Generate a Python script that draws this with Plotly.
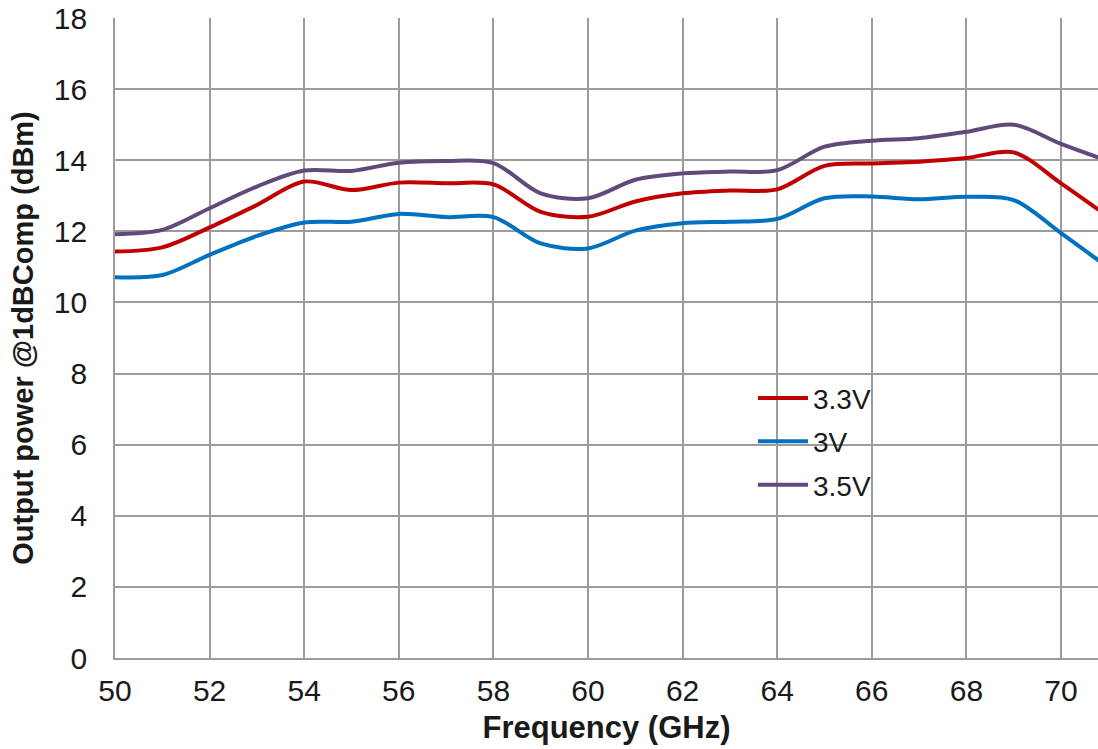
import plotly.graph_objects as go

# Frequency sweep (GHz)
freq_ghz = [50, 51, 52, 53, 54, 55, 56, 57, 58, 59, 60,
            61, 62, 63, 64, 65, 66, 67, 68, 69, 70, 71]

# Output power at 1 dB compression (dBm) per supply voltage
p1db_3v3 = [11.43, 11.55, 12.11, 12.74, 13.40, 13.16, 13.37, 13.35, 13.32, 12.55, 12.41,
            12.84, 13.07, 13.15, 13.18, 13.84, 13.91, 13.96, 14.06, 14.22, 13.35, 12.41]
p1db_3v0 = [10.71, 10.77, 11.34, 11.87, 12.25, 12.27, 12.49, 12.40, 12.40, 11.66, 11.52,
            12.02, 12.23, 12.27, 12.35, 12.93, 12.98, 12.90, 12.97, 12.88, 11.95, 10.98]
p1db_3v5 = [11.92, 12.04, 12.65, 13.26, 13.71, 13.70, 13.93, 13.98, 13.92, 13.07, 12.93,
            13.45, 13.63, 13.68, 13.72, 14.38, 14.55, 14.62, 14.80, 15.00, 14.46, 13.98]

series_names = ["3.3V", "3V", "3.5V"]
series_values = [p1db_3v3, p1db_3v0, p1db_3v5]
series_colors = ["#C00000", "#0070C0", "#604A7B"]

x_ticks = [50, 52, 54, 56, 58, 60, 62, 64, 66, 68, 70]
y_ticks = [0, 2, 4, 6, 8, 10, 12, 14, 16, 18]

grid_col = "#9C9C9C"
font_family = "Liberation Sans, Arial, sans-serif"

fig = go.Figure()
for name, vals, col in zip(series_names, series_values, series_colors):
    fig.add_trace(go.Scatter(
        x=freq_ghz, y=vals, name=name, mode="lines",
        legendgroup=name,
        line=dict(color=col, width=4, shape="spline", smoothing=0.9),
    ))

fig.update_layout(
    width=1098, height=749,
    margin=dict(l=115, r=0, t=18, b=91),
    paper_bgcolor="white", plot_bgcolor="white",
    font=dict(family=font_family, color="#1a1a1a"),
    showlegend=True,
    legend=dict(
        x=0.649, y=0.445, xanchor="left", yanchor="top",
        bgcolor="rgba(0,0,0,0)", borderwidth=0,
        font=dict(size=28, family=font_family, color="#1a1a1a"),
        traceorder="grouped", tracegroupgap=4, itemwidth=50,
    ),
    xaxis=dict(
        range=[50, 50 + 983 / 47.3],
        tickvals=x_ticks, ticktext=[str(v) for v in x_ticks],
        showgrid=True, gridcolor=grid_col, gridwidth=1.6,
        showline=True, linecolor=grid_col, linewidth=1.6,
        zeroline=False, ticks="", ticklabelstandoff=5,
        tickfont=dict(size=30, family=font_family, color="#1a1a1a"),
        title=dict(text="<b>Frequency (GHz)</b>", standoff=11,
                   font=dict(size=31, family=font_family, color="#1a1a1a")),
    ),
    yaxis=dict(
        range=[0, 18],
        tickvals=y_ticks, ticktext=[str(v) for v in y_ticks],
        showgrid=True, gridcolor=grid_col, gridwidth=1.6,
        showline=True, linecolor=grid_col, linewidth=1.6,
        zeroline=False, ticks="", ticklabelstandoff=20,
        tickfont=dict(size=30, family=font_family, color="#1a1a1a"),
        title=dict(text="<b>Output power @1dBComp (dBm)</b>", standoff=12,
                   font=dict(size=29, family=font_family, color="#1a1a1a")),
    ),
)

fig.write_html("out.html")
